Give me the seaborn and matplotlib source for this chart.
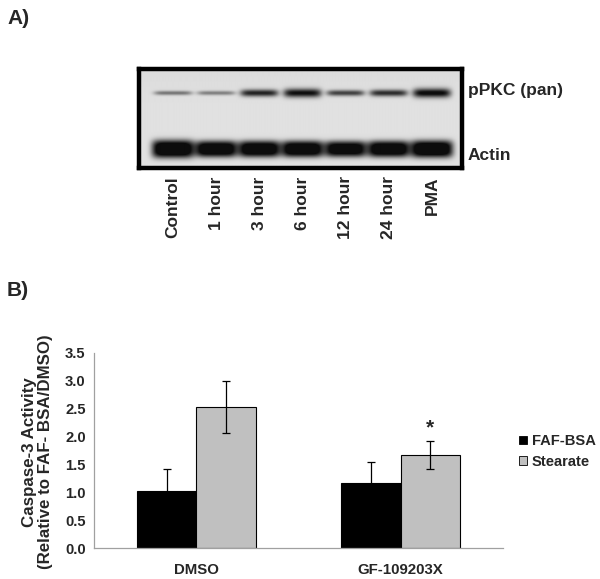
import numpy as np
import pandas as pd
import matplotlib
matplotlib.use("Agg")
import matplotlib.pyplot as plt
import seaborn as sns
from matplotlib.patches import Patch
from matplotlib.ticker import FormatStrFormatter

# ---------------- data ----------------
# Panel A (western blot, band strengths)
lanes = ["Control", "1 hour", "3 hour", "6 hour", "12 hour", "24 hour", "PMA"]
ppkc_intensity = [0.5, 0.45, 0.9, 1.0, 0.75, 0.85, 1.05]
ppkc_thickness = [2.2, 2.2, 3.6, 4.4, 3.0, 3.4, 4.6]
actin_intensity = [1.3, 1.25, 1.25, 1.25, 1.2, 1.25, 1.3]
actin_thickness = [9.0, 8.2, 8.2, 8.2, 8.0, 8.2, 8.6]
blot_rows = ["pPKC (pan)", "Actin"]

# Panel B (bar chart)
groups = ["DMSO", "GF-109203X"]
treatments = ["FAF-BSA", "Stearate"]
faf_bsa = [1.02, 1.17]
stearate = [2.53, 1.67]
faf_bsa_err = [0.40, 0.37]
stearate_err = [0.47, 0.25]
significance = ["", "*"]

# ---------------- style ----------------
sns.set_style("white")
plt.rcParams["font.family"] = ["Liberation Sans", "DejaVu Sans"]
plt.rcParams["font.weight"] = "bold"

W, H = 600, 579
fig = plt.figure(figsize=(W / 100, H / 100), dpi=100)

def fx(px):
    return px / W

def fy(py):
    return 1 - py / H

# ---------------- panel A ----------------
fig.text(fx(7), fy(18), "A)", fontsize=15, fontweight="bold", va="center", ha="left")

box_l, box_r, box_t, box_b = 139, 462, 69, 168
axA = fig.add_axes([fx(box_l), fy(box_b), (box_r - box_l) / W, (box_b - box_t) / H])

lane_px = 43.2
x0 = -(173 - box_l) / lane_px
x1 = len(lanes) - 1 + (box_r - 432) / lane_px
nrow = box_b - box_t
xs = np.linspace(x0, x1, 700)
ys = np.arange(nrow) + 0.5
X, Y = np.meshgrid(xs, ys)
dark = np.zeros_like(X)
ppkc_y = 93 - box_t
actin_y = 149 - box_t
for i in range(len(lanes)):
    hp = np.exp(-((X - i) / 0.44) ** 6)
    dark += ppkc_intensity[i] * hp * np.exp(-((Y - ppkc_y) / ppkc_thickness[i]) ** 2)
    ha_ = np.exp(-((X - i) / 0.49) ** 6)
    dark += actin_intensity[i] * ha_ * np.exp(-np.abs((Y - actin_y) / actin_thickness[i]) ** 3)
dark = np.clip(dark, 0, 1)
bg = 0.88 - 0.02 * np.exp(-((Y - 0) / 20) ** 2)
img = bg - dark * (bg - 0.05)
axA.imshow(img, cmap="gray", vmin=0, vmax=1, aspect="auto", interpolation="bilinear",
           extent=(x0, x1, nrow, 0))
axA.set_xlim(x0, x1)
axA.set_ylim(nrow, 0)
axA.set_yticks([])
axA.set_xticks(range(len(lanes)))
axA.set_xticklabels(lanes, rotation=90, fontsize=12.5, fontweight="bold", va="top")
axA.tick_params(axis="x", length=0, pad=6)
for s in axA.spines.values():
    s.set_visible(True)
    s.set_color("black")
    s.set_linewidth(3.2)

fig.text(fx(468), fy(90), blot_rows[0], fontsize=12.5, fontweight="bold", va="center", ha="left")
fig.text(fx(468), fy(155), blot_rows[1], fontsize=12.5, fontweight="bold", va="center", ha="left")

# ---------------- panel B ----------------
fig.text(fx(7), fy(291), "B)", fontsize=15, fontweight="bold", va="center", ha="left")

ax_l, ax_r, ax_t, ax_b = 94, 503, 353, 548
axB = fig.add_axes([fx(ax_l), fy(ax_b), (ax_r - ax_l) / W, (ax_b - ax_t) / H])

df = pd.DataFrame({
    "group": groups * 2,
    "treatment": [treatments[0]] * len(groups) + [treatments[1]] * len(groups),
    "value": faf_bsa + stearate,
})
colors = {"FAF-BSA": "black", "Stearate": "#c0c0c0"}
sns.barplot(data=df, x="group", y="value", hue="treatment", hue_order=treatments,
            order=groups, palette=colors, width=0.58, gap=0, errorbar=None,
            edgecolor="black", linewidth=0.8, legend=False, ax=axB)

errs = [faf_bsa_err, stearate_err]
vals = [faf_bsa, stearate]
bar_containers = list(axB.containers)
for k, cont in enumerate(bar_containers):
    for j, p in enumerate(cont.patches):
        xc = p.get_x() + p.get_width() / 2
        axB.errorbar(xc, vals[k][j], yerr=errs[k][j], color="black", lw=0.9,
                     capsize=3, capthick=0.9, zorder=5)
        if k == 1 and significance[j]:
            axB.text(xc, vals[k][j] + errs[k][j] + 0.06, significance[j], ha="center",
                     va="bottom", fontsize=15, fontweight="bold")

axB.set_xlim(-0.5, len(groups) - 0.5)
axB.set_ylim(0, 3.5)
axB.set_yticks(np.arange(0, 3.51, 0.5))
axB.yaxis.set_major_formatter(FormatStrFormatter("%.1f"))
axB.set_xlabel("")
axB.set_ylabel("")
axB.set_xticks(range(len(groups)))
axB.set_xticklabels(groups, fontsize=10.8, fontweight="bold")
axB.set_xticks(np.arange(-0.5, len(groups), 1.0), minor=True)
axB.tick_params(axis="x", which="major", length=0, pad=11)
axB.tick_params(axis="x", which="minor", length=4, color="#a0a0a0", width=0.8, direction="out")
axB.tick_params(axis="y", length=4, color="#a0a0a0", width=0.8, direction="out",
                pad=2, labelsize=10.6)
for lab in axB.get_yticklabels():
    lab.set_fontweight("bold")
for side in ["top", "right"]:
    axB.spines[side].set_visible(False)
for side in ["left", "bottom"]:
    axB.spines[side].set_visible(True)
    axB.spines[side].set_color("#a0a0a0")
    axB.spines[side].set_linewidth(0.9)

fig.text(fx(37.5), fy(452), "Caspase-3 Activity\n(Relative to FAF- BSA/DMSO)",
         rotation=90, ha="center", va="center", multialignment="center",
         fontsize=12.2, fontweight="bold", linespacing=1.1)

handles = [Patch(facecolor=colors[t], edgecolor="black", linewidth=0.6) for t in treatments]
axB.legend(handles, treatments, loc="center left", bbox_to_anchor=(1.04, 0.495),
           frameon=False, handlelength=0.55, handleheight=0.55,
           handletextpad=0.3, borderpad=0, borderaxespad=0, labelspacing=0.45,
           prop={"weight": "bold", "size": 10.6})

fig.savefig("out.png", dpi=100)
